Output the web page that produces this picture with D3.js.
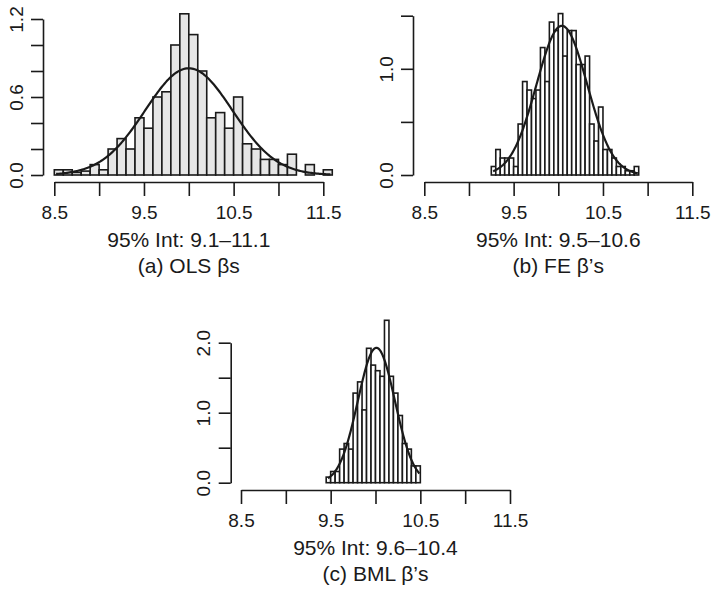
<!DOCTYPE html>
<html>
<head>
<meta charset="utf-8">
<script src="https://cdn.jsdelivr.net/npm/d3@7"></script>
<style>
	body { margin: 0; background: #fff; }
	svg { font-family: 'Liberation Sans', Arial, Helvetica, sans-serif; }
</style>
</head>
<body>
<div id="chart"></div>
<script>
const width = 711
const height = 592

// histogram densities
const olsStart = 8.5
const olsBin = 0.1
const olsDensity = [0.04, 0.04, 0.02, 0.03, 0.08, 0.04, 0.2, 0.28, 0.2, 0.44, 0.36, 0.6, 0.64, 1.0, 1.24, 1.08, 0.8, 0.44, 0.48, 0.36, 0.6, 0.24, 0.2, 0.12, 0.12, 0.08, 0.16, 0, 0.08, 0, 0.04]

const feStart = 9.25
const feBin = 0.05
const feDensity = [0.08, 0.24, 0.16, 0.16, 0.16, 0.08, 0.48, 0.88, 0.8, 0.72, 0.8, 1.2, 0.88, 1.44, 1.36, 1.52, 1.12, 1.36, 1.36, 1.04, 1.04, 1.12, 0.48, 0.32, 0.64, 0.24, 0.24, 0.16, 0.08, 0.08, 0.04, 0.04, 0.08]

const bmlStart = 9.45
const bmlBin = 0.05
const bmlDensity = [0.08, 0.16, 0.16, 0.48, 0.56, 0.48, 1.28, 1.44, 1.04, 1.92, 1.68, 1.6, 1.52, 2.32, 1.52, 1.28, 0.96, 0.56, 0.48, 0.24, 0.24]

// fitted normal curves: [mean, sd, from, to]
const olsFit = [10.0, 0.486, 8.52, 11.58]
const feFit = [10.04, 0.284, 9.27, 10.89]
const bmlFit = [10.01, 0.207, 9.47, 10.49]

// axes
const xTicks = [8.5, 9, 9.5, 10, 10.5, 11, 11.5]
const xLabels = [8.5, 9.5, 10.5, 11.5]
const olsYTicks = [0, 0.2, 0.4, 0.6, 0.8, 1.0, 1.2]
const olsYLabels = [0, 0.6, 1.2]
const feYTicks = [0, 0.5, 1.0, 1.5]
const feYLabels = [0, 1.0]
const bmlYTicks = [0, 0.5, 1.0, 1.5, 2.0]
const bmlYLabels = [0, 1.0, 2.0]

const intervals = ['95% Int: 9.1\u201311.1', '95% Int: 9.5\u201310.6', '95% Int: 9.6\u201310.4']
const titles = ['(a) OLS \u03b2s', '(b) FE \u03b2\u2019s', '(c) BML \u03b2\u2019s']

const panels = [
	{ start: olsStart, bin: olsBin, density: olsDensity, fit: olsFit, yTicks: olsYTicks, yLabels: olsYLabels,
	  interval: intervals[0], title: titles[0], fill: '#e6e6e6',
	  xRange: [54.3, 323.3], yAxisX: 43, yRange: [175, 19], axisY: 182 },
	{ start: feStart, bin: feBin, density: feDensity, fit: feFit, yTicks: feYTicks, yLabels: feYLabels,
	  interval: intervals[1], title: titles[1], fill: '#ffffff',
	  xRange: [424.3, 692.3], yAxisX: 413, yRange: [175, 15.7], axisY: 182 },
	{ start: bmlStart, bin: bmlBin, density: bmlDensity, fit: bmlFit, yTicks: bmlYTicks, yLabels: bmlYLabels,
	  interval: intervals[2], title: titles[2], fill: '#ffffff',
	  xRange: [241, 510], yAxisX: 230.7, yRange: [482.7, 342.7], axisY: 490 },
]

const svg = d3
	.select('#chart')
	.append('svg')
	.attr('width', width)
	.attr('height', height)

panels.forEach((p) => drawPanel(p))

function drawPanel(p) {
	const ink = '#1a1a1a'
	const x = d3.scaleLinear().domain([8.5, 11.5]).range(p.xRange)
	const yMax = p.yTicks[p.yTicks.length - 1]
	const y = d3.scaleLinear().domain([0, yMax]).range(p.yRange)

	const g = svg.append('g')

	g.append('g')
		.selectAll('rect')
		.data(p.density)
		.enter()
		.append('rect')
		.attr('x', (_d, i) => x(p.start + i * p.bin))
		.attr('width', (_d, i) => x(p.start + (i + 1) * p.bin) - x(p.start + i * p.bin))
		.attr('y', (d) => y(d))
		.attr('height', (d) => y(0) - y(d))
		.attr('fill', p.fill)
		.attr('stroke', ink)
		.attr('stroke-width', 1.6)

	// normal density overlay
	const [mean, sd, from, to] = p.fit
	const pts = d3.range(0, 201).map((k) => {
		const v = from + ((to - from) * k) / 200
		const z = (v - mean) / sd
		return [v, Math.exp(-0.5 * z * z) / (sd * Math.sqrt(2 * Math.PI))]
	})
	g.append('path')
		.attr('d', d3.line().x((d) => x(d[0])).y((d) => y(d[1]))(pts))
		.attr('fill', 'none')
		.attr('stroke', ink)
		.attr('stroke-width', 2.2)

	const fmt = d3.format('.1f')

	const xAxis = g
		.append('g')
		.attr('transform', 'translate(0,' + p.axisY + ')')
		.call(
			d3.axisBottom(x)
				.tickValues(xTicks)
				.tickSize(14)
				.tickSizeOuter(0)
				.tickFormat((d) => (xLabels.includes(d) ? fmt(d) : ''))
		)
	xAxis.attr('color', ink).attr('font-size', 19).attr('font-family', null)
	xAxis.selectAll('line, path').attr('stroke-width', 1.6)
	xAxis.selectAll('.tick text').attr('y', 30).attr('dy', '0.35em').attr('fill', ink)

	const yAxis = g
		.append('g')
		.attr('transform', 'translate(' + p.yAxisX + ',0)')
		.call(
			d3.axisLeft(y)
				.tickValues(p.yTicks)
				.tickSize(12)
				.tickSizeOuter(0)
				.tickFormat((d) => (p.yLabels.includes(d) ? fmt(d) : ''))
		)
	yAxis.attr('color', ink).attr('font-size', 19).attr('font-family', null)
	yAxis.selectAll('line, path').attr('stroke-width', 1.6)
	yAxis
		.selectAll('.tick text')
		.attr('x', 0)
		.attr('y', -27)
		.attr('dy', null)
		.attr('transform', 'rotate(-90)')
		.attr('text-anchor', 'middle')
		.attr('dominant-baseline', 'central')
		.attr('fill', ink)

	const cx = x(10)
	g.append('text')
		.attr('x', cx)
		.attr('y', p.axisY + 58)
		.attr('dy', '0.35em')
		.attr('text-anchor', 'middle')
		.attr('font-size', 21)
		.attr('fill', ink)
		.text(p.interval)

	g.append('text')
		.attr('x', cx)
		.attr('y', p.axisY + 84)
		.attr('dy', '0.35em')
		.attr('text-anchor', 'middle')
		.attr('font-size', 21)
		.attr('fill', ink)
		.text(p.title)
}
</script>
</body>
</html>
